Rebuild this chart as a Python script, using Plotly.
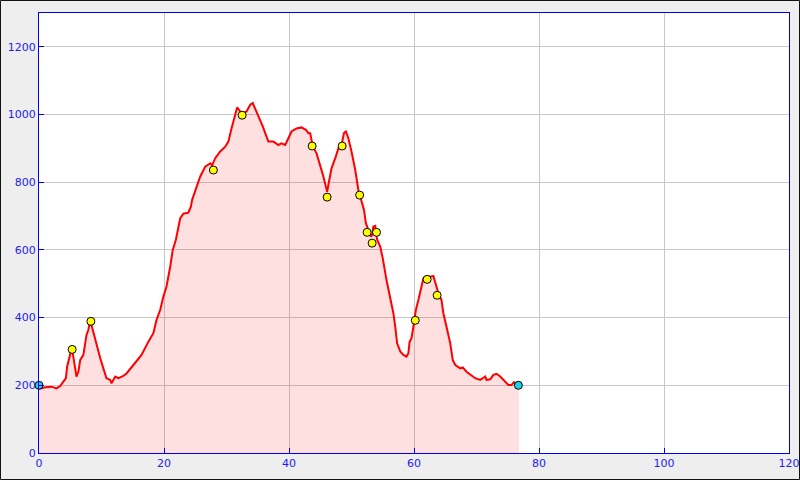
import plotly.graph_objects as go

# Elevation profile (distance km, elevation m)
dist = [0.0, 0.2, 1.0, 2.0, 2.8, 3.4, 3.9, 4.3, 4.5, 4.8, 5.1, 5.4, 5.7, 6.0, 6.3, 6.6,
        7.1, 7.4, 7.6, 7.9, 8.1, 8.3, 8.6, 9.0, 9.5, 9.8, 10.3, 10.8, 11.4, 11.6, 12.2,
        12.7, 13.5, 14.0, 15.1, 15.9, 16.4, 17.5, 18.3, 18.8, 19.4, 19.9, 20.4, 21.0,
        21.4, 21.9, 22.3, 22.6, 23.1, 23.9, 24.3, 24.5, 25.8, 26.6, 27.4, 27.7, 28.2,
        29.0, 29.8, 30.3, 30.8, 31.4, 31.7, 32.2, 32.7, 33.2, 33.8, 34.2, 34.7, 35.2,
        35.8, 36.3, 36.7, 37.5, 38.3, 38.8, 39.4, 39.9, 40.4, 41.2, 42.0, 42.7, 43.1,
        43.4, 43.8, 44.4, 45.0, 45.5, 45.9, 46.1, 46.4, 46.8, 47.4, 47.9, 48.4, 48.8,
        49.1, 49.5, 50.0, 50.6, 51.1, 51.6, 52.0, 52.3, 52.6, 53.1, 53.3, 53.5, 53.8,
        54.1, 54.6, 55.0, 55.6, 56.2, 56.7, 57.0, 57.3, 57.8, 58.3, 58.8, 59.1, 59.3,
        59.6, 59.9, 60.3, 60.7, 61.1, 61.5, 62.0, 62.6, 63.1, 63.4, 63.9, 64.4, 64.7,
        65.2, 65.8, 66.2, 66.6, 67.4, 67.8, 68.4, 69.0, 69.8, 70.6, 71.4, 71.6, 72.2,
        72.7, 73.2, 73.8, 74.3, 75.1, 75.6, 76.0, 76.4, 76.8]
elev = [190, 191, 194, 196, 191, 198, 211, 221, 255, 275, 300, 295, 255, 226, 240, 275,
        290, 319, 349, 364, 383, 385, 364, 329, 300, 280, 250, 221, 216, 206, 226,
        221, 228, 235, 260, 280, 290, 329, 354, 393, 423, 462, 492, 551,
        600, 630, 669, 694, 707, 710, 728, 748, 817, 846, 856, 850, 871,
        891, 905, 920, 959, 999, 1021, 1009, 1004, 1009, 1029, 1034, 1014, 994,
        965, 940, 920, 920, 910, 915, 910, 930, 950, 959, 962, 955, 945,
        945, 905, 886, 851, 817, 787, 772, 802, 841, 871, 900, 910, 945,
        950, 930, 891, 836, 777, 743, 718, 679, 664, 639, 645, 669, 671,
        630, 610, 575, 511, 462, 413, 373, 324, 300, 290, 285, 295, 329,
        339, 373, 423, 452, 482, 516, 523, 521, 523, 502, 472, 452, 413,
        373, 324, 275, 260, 250, 253, 240, 231, 221, 216, 226, 216, 218,
        231, 234, 226, 216, 201, 201, 209, 201, 200]

# Waypoints
wp_x = [5.3, 8.3, 27.9, 32.5, 43.7, 46.1, 48.5, 51.3, 52.5, 53.3, 54.0, 60.2, 62.1, 63.7]
wp_y = [306, 389, 836, 998, 907, 756, 907, 762, 652, 620, 652, 392, 513, 466]
end_x = [0.0, 76.7]
end_y = [200, 200]

x_ticks = [0, 20, 40, 60, 80, 100, 120]
y_ticks = [0, 200, 400, 600, 800, 1000, 1200]

fig = go.Figure()
fig.add_trace(go.Scatter(x=dist, y=elev, mode="lines", fill="tozeroy",
                         fillcolor="rgba(255,0,0,0.12)",
                         line=dict(color="#ff0000", width=2), hoverinfo="skip"))
fig.add_trace(go.Scatter(x=wp_x, y=wp_y, mode="markers",
                         marker=dict(size=8, color="#ffff00",
                                     line=dict(color="#000000", width=1))))
fig.add_trace(go.Scatter(x=end_x, y=end_y, mode="markers", cliponaxis=False,
                         marker=dict(size=8, color="#1ed2e6",
                                     line=dict(color="#000000", width=1))))

axis_common = dict(showline=True, linecolor="#0000ee", linewidth=1, mirror=True,
                   ticks="inside", ticklen=5, tickcolor="#0000ee",
                   showgrid=True, gridcolor="#c8c8c8", gridwidth=1,
                   zeroline=False, automargin=False,
                   tickfont=dict(family="DejaVu Sans", size=11, color="#2222ee"))

fig.update_xaxes(range=[0, 120], tickvals=x_ticks, **axis_common)
fig.update_yaxes(range=[0, 1300], tickvals=y_ticks, **axis_common)

W, H = 800, 480
ml, mr, mt, mb = 39, 11, 13, 27
pw, ph = W - ml - mr, H - mt - mb
fig.add_shape(type="rect", xref="paper", yref="paper",
              x0=-(ml - 0.5) / pw, x1=1 + (mr - 0.5) / pw,
              y0=-(mb - 0.5) / ph, y1=1 + (mt - 0.5) / ph,
              line=dict(color="#111111", width=1), layer="below")

fig.update_layout(width=W, height=H, showlegend=False,
                  margin=dict(l=ml, r=mr, t=mt, b=mb, autoexpand=False),
                  paper_bgcolor="#eeeeee", plot_bgcolor="#ffffff")

fig.write_html("out.html", config={"displayModeBar": False},
               post_script="document.body.style.margin='0';"
                           "document.body.style.padding='0';"
                           "document.body.style.overflow='hidden';")
